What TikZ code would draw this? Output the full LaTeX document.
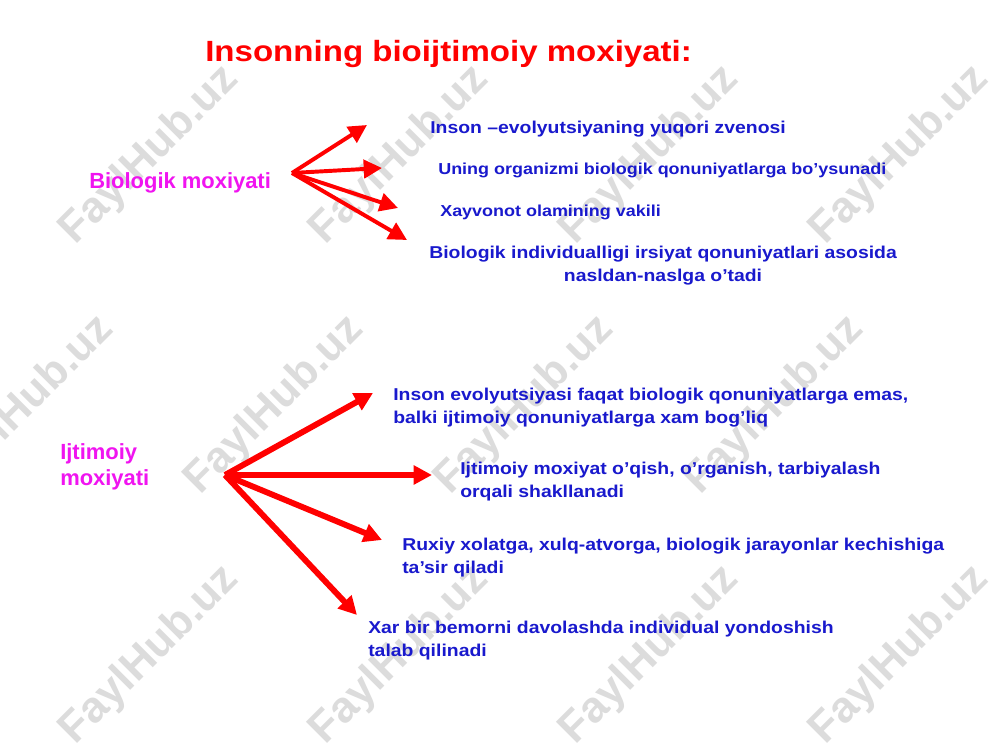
\documentclass[tikz,border=0pt]{standalone}
\usepackage{fontspec}
\setmainfont{Liberation Sans}[FakeStretch=1.13]
\newfontfamily\plainsans{Liberation Sans}
\usetikzlibrary{arrows.meta}

\definecolor{itemblue}{RGB}{25,25,205}
\definecolor{kindpink}{RGB}{240,20,240}
\definecolor{markgray}{RGB}{220,220,220}

\tikzset{
	item/.style={anchor=north west, inner sep=0pt, text=itemblue, align=left,
		font=\bfseries\fontsize{12.2}{16.7}\selectfont},
	smallitem/.style={item, font=\bfseries\fontsize{11.3}{15.5}\selectfont},
	kind/.style={anchor=north west, inner sep=0pt, text=kindpink, align=left,
		font=\plainsans\bfseries\fontsize{15.6}{18.5}\selectfont},
	bolt/.style={draw=red, line width=2.8pt, -{Triangle[length=13pt,width=13pt]}},
	boltthick/.style={bolt, line width=4.2pt},
	stamp/.style={text=markgray, rotate=45, inner sep=0pt,
		font=\plainsans\bfseries\fontsize{31}{31}\selectfont}
}

\begin{document}
\begin{tikzpicture}[x=0.025cm, y=-0.025cm]

	% page frame
	\fill[white] (0,0) rectangle (1000,750);
	\useasboundingbox (0,0) rectangle (1000,750);

	% watermark grid
	\foreach \wx/\wy [count=\i] in {150/155, 400/155, 650/155, 900/155,
		25/405, 275/405, 525/405, 775/405,
		150/655, 400/655, 650/655, 900/655}
		\node[stamp] (wm\i) at (\wx,\wy) {FaylHub.uz};

	% title
	\node[anchor=north west, inner sep=0pt, text=red,
		font=\bfseries\fontsize{20.8}{25}\selectfont] (title) at (205,39.6)
		{Insonning bioijtimoiy moxiyati:};

	% biological side
	\node[kind] (bio) at (89,172) {Biologik moxiyati};

	\coordinate (bioO) at (292,173);
	\coordinate (bio1) at (367,125);
	\coordinate (bio2) at (382,168);
	\coordinate (bio3) at (398,208);
	\coordinate (bio4) at (407,240);

	\node[item] (bioA) at (430,120.5) {Inson –evolyutsiyaning yuqori zvenosi};
	\node[smallitem] (bioB) at (438,162.4) {Uning organizmi biologik qonuniyatlarga bo’ysunadi};
	\node[smallitem] (bioC) at (440,204.4) {Xayvonot olamining vakili};
	\node[item, align=center] (bioD) at (429,245.5)
		{Biologik individualligi irsiyat qonuniyatlari asosida\\nasldan-naslga o’tadi};

	\draw[bolt] (bioO) -- (bio1);
	\draw[bolt] (bioO) -- (bio2);
	\draw[bolt] (bioO) -- (bio3);
	\draw[bolt] (bioO) -- (bio4);

	% social side
	\node[kind] (soc) at (60,443) {Ijtimoiy\\moxiyati};

	\coordinate (socO) at (225,475);
	\coordinate (soc1) at (373,393);
	\coordinate (soc2) at (432,475);
	\coordinate (soc3) at (382,540);
	\coordinate (soc4) at (357,615);

	\node[item] (socA) at (393,387.5)
		{Inson evolyutsiyasi faqat biologik qonuniyatlarga emas,\\balki ijtimoiy qonuniyatlarga xam bog’liq};
	\node[item] (socB) at (460,461.5)
		{Ijtimoiy moxiyat o’qish, o’rganish, tarbiyalash\\orqali shakllanadi};
	\node[item] (socC) at (402,537.5)
		{Ruxiy xolatga, xulq-atvorga, biologik jarayonlar kechishiga\\ta’sir qiladi};
	\node[item] (socD) at (368,620.5)
		{Xar bir bemorni davolashda individual yondoshish\\talab qilinadi};

	\draw[boltthick] (socO) -- (soc1);
	\draw[boltthick] (socO) -- (soc2);
	\draw[boltthick] (socO) -- (soc3);
	\draw[boltthick] (socO) -- (soc4);

\end{tikzpicture}
\end{document}
